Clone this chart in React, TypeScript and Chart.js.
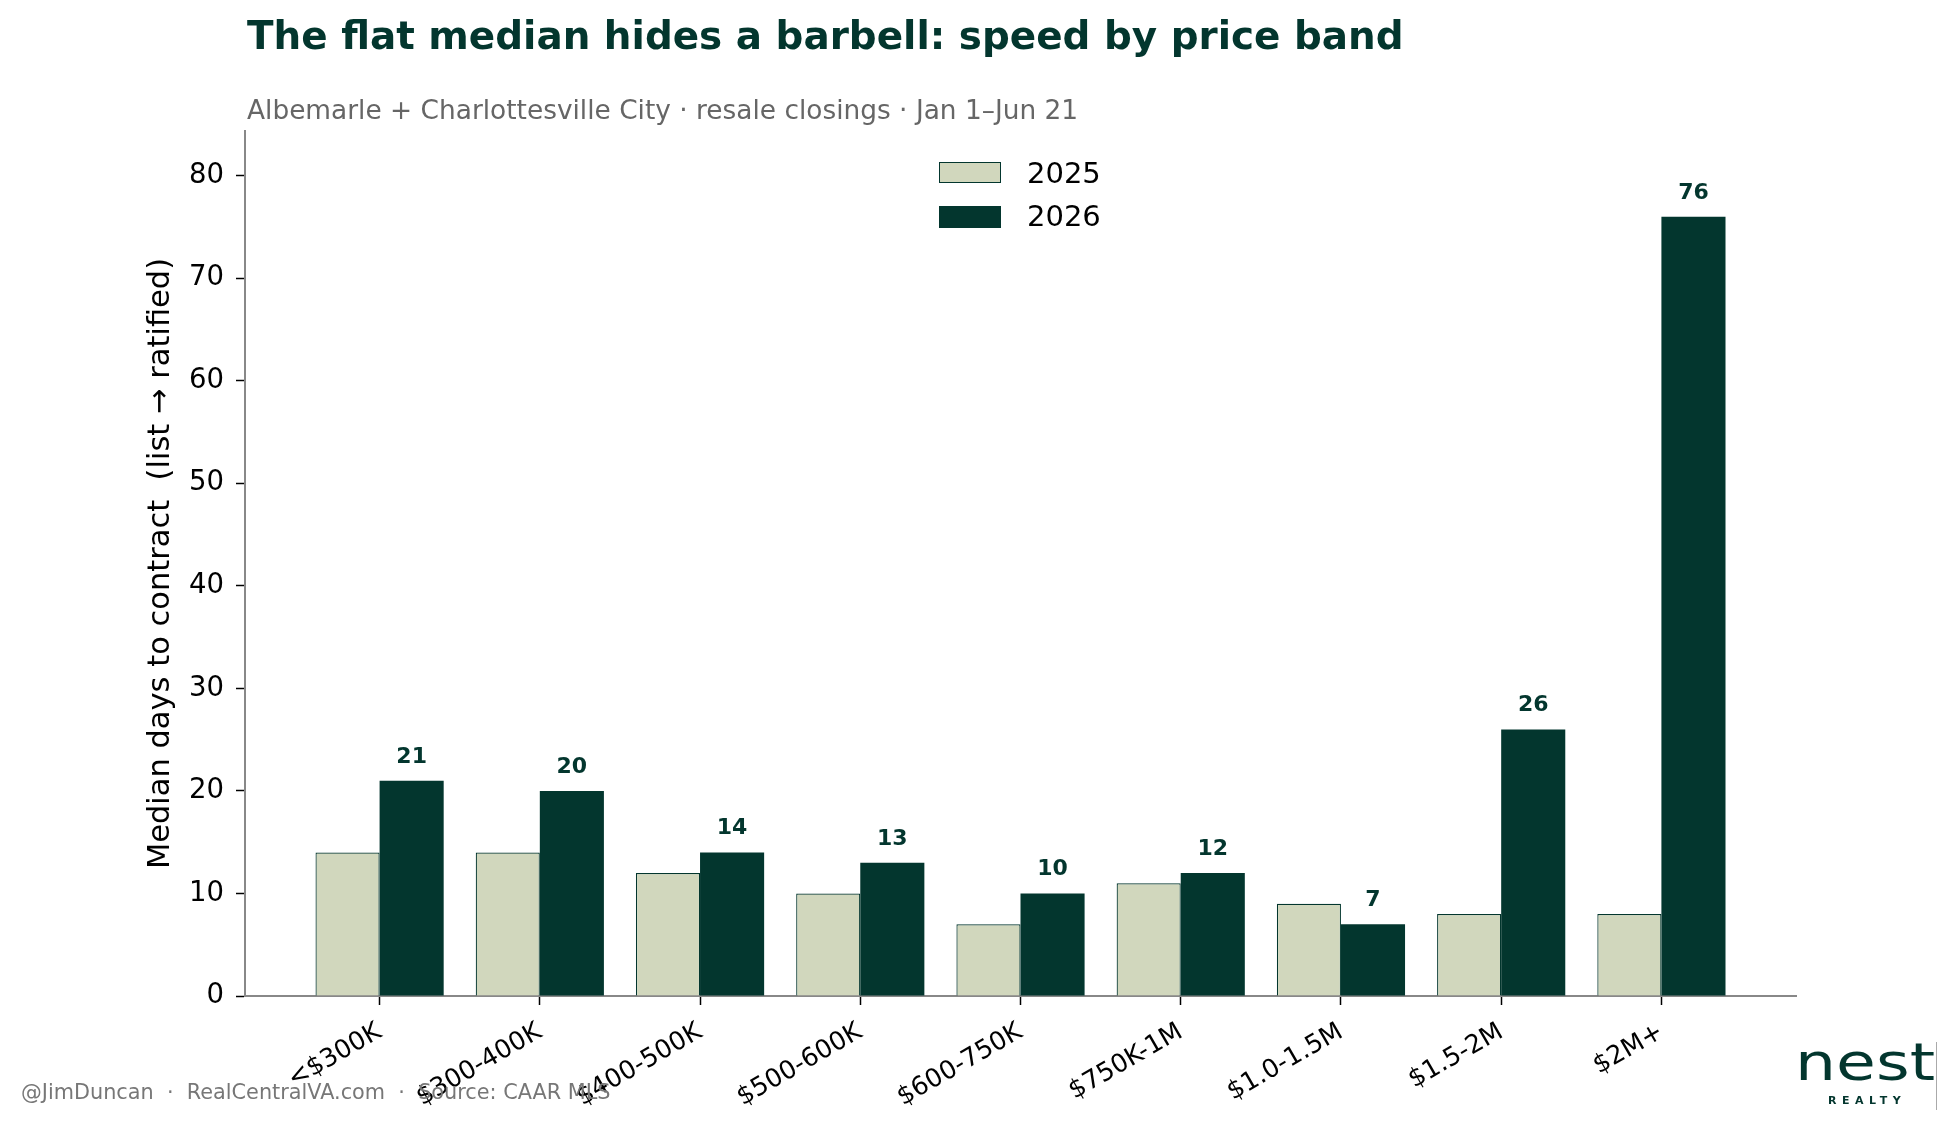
import { useEffect, useRef } from 'react';
import { Chart, registerables } from 'chart.js';
Chart.register(...registerables);

const BANDS = ['<$300K', '$300-400K', '$400-500K', '$500-600K', '$600-750K', '$750K-1M', '$1.0-1.5M', '$1.5-2M', '$2M+'];
const SERIES = ['2025', '2026'];
const DAYS_2025 = [14, 14, 12, 10, 7, 11, 9, 8, 8];
const DAYS_2026 = [21, 20, 14, 13, 10, 12, 7, 26, 76];
const Y_STEP = 10;

const DARK = '#03362e';
const LIGHT = '#d1d7bd';
const FONT = "'DejaVu Sans', sans-serif";

// numbers over the 2026 bars
const valueLabels = {
  id: 'valueLabels',
  afterDatasetsDraw(chart: any) {
    const { ctx } = chart;
    const meta = chart.getDatasetMeta(1);
    ctx.save();
    ctx.font = `bold 22px ${FONT}`;
    ctx.fillStyle = DARK;
    ctx.textAlign = 'center';
    ctx.textBaseline = 'alphabetic';
    meta.data.forEach((bar: any, i: number) => {
      ctx.fillText(String(DAYS_2026[i]), bar.x, bar.y - 18);
    });
    ctx.restore();
  }
};

function text(left: number, baseline: number, size: number, extra: React.CSSProperties = {}): React.CSSProperties {
  return {
    position: 'absolute',
    left,
    top: baseline - 0.846 * size,
    fontSize: size,
    lineHeight: `${size}px`,
    fontFamily: FONT,
    whiteSpace: 'pre',
    margin: 0,
    ...extra
  };
}

export default function App() {
  const canvasRef = useRef<HTMLCanvasElement>(null);
  const chartRef = useRef<Chart | null>(null);

  useEffect(() => {
    if (!canvasRef.current) return;
    if (chartRef.current) chartRef.current.destroy();

    const maxY = Math.max(...DAYS_2026, ...DAYS_2025) * 1.11;

    chartRef.current = new Chart(canvasRef.current, {
      type: 'bar',
      data: {
        datasets: [
          {
            label: SERIES[0],
            data: DAYS_2025.map((v, i) => ({ x: i, y: v })),
            backgroundColor: LIGHT,
            borderColor: DARK,
            borderWidth: 1.2,
            categoryPercentage: 0.8,
            barPercentage: 1.0
          },
          {
            label: SERIES[1],
            data: DAYS_2026.map((v, i) => ({ x: i, y: v })),
            backgroundColor: DARK,
            borderColor: DARK,
            borderWidth: 0,
            categoryPercentage: 0.8,
            barPercentage: 1.0
          }
        ]
      },
      options: {
        responsive: false,
        animation: false,
        events: [],
        layout: { padding: { left: 0, top: 131, right: 160, bottom: 0 } },
        plugins: {
          legend: { display: false },
          title: { display: false },
          tooltip: { enabled: false }
        },
        scales: {
          x: {
            type: 'linear',
            offset: false,
            min: -0.84,
            max: BANDS.length - 1 + 0.84,
            afterFit: (s: any) => { s.height = 129; },
            border: { display: true, color: '#888', width: 2 },
            grid: { display: true, offset: false, drawOnChartArea: false, drawTicks: true, tickLength: 9, tickColor: '#000', tickWidth: 1.5 },
            ticks: {
              stepSize: 1,
              includeBounds: false,
              autoSkip: false,
              minRotation: 30,
              maxRotation: 30,
              padding: 12,
              color: '#000',
              font: { family: FONT, size: 25.5 },
              callback: (v: any) => BANDS[v] ?? ''
            }
          },
          y: {
            type: 'linear',
            min: 0,
            max: maxY,
            afterFit: (s: any) => { s.width = 245; },
            border: { display: true, color: '#888', width: 2 },
            grid: { display: true, drawOnChartArea: false, drawTicks: true, tickLength: 9, tickColor: '#000', tickWidth: 1.5 },
            ticks: {
              stepSize: Y_STEP,
              includeBounds: false,
              padding: 12,
              color: '#000',
              font: { family: FONT, size: 27.5 }
            },
            title: {
              display: true,
              text: 'Median days to contract  (list \u2192 ratified)',
              color: '#000',
              font: { family: FONT, size: 30.5 },
              padding: { top: 143, bottom: 0 }
            }
          }
        }
      },
      plugins: [valueLabels]
    } as any);

    return () => {
      if (chartRef.current) {
        chartRef.current.destroy();
        chartRef.current = null;
      }
    };
  }, []);

  return (
    <div style={{ position: 'fixed', left: 0, top: 0, width: 1956, height: 1125, background: '#fff', overflow: 'hidden' }}>
      <canvas ref={canvasRef} width={1956} height={1125} style={{ position: 'absolute', left: 0, top: 0 }} />

      <div style={text(247, 50, 38.9, { fontWeight: 'bold', color: DARK })}>
        The flat median hides a barbell: speed by price band
      </div>
      <div style={text(247, 119, 26.4, { color: '#666' })}>
        Albemarle + Charlottesville City · resale closings · Jan 1–Jun 21
      </div>

      {/* legend */}
      <div style={{ position: 'absolute', left: 939, top: 162, width: 62, height: 21, boxSizing: 'border-box', background: LIGHT, border: `1.5px solid ${DARK}` }} />
      <div style={text(1027, 184, 29, { color: '#000' })}>{SERIES[0]}</div>
      <div style={{ position: 'absolute', left: 939, top: 206, width: 62, height: 22, background: DARK }} />
      <div style={text(1027, 227, 29, { color: '#000' })}>{SERIES[1]}</div>

      <div style={text(21, 1100, 20.8, { color: '#777' })}>
        {'@JimDuncan  ·  RealCentralVA.com  ·  Source: CAAR MLS'}
      </div>

      {/* logo */}
      <div style={text(1795, 1080, 51, { color: DARK, transform: 'scaleX(1.27)', transformOrigin: 'left top' })}>nest</div>
      <div style={text(1828, 1104, 11, { color: DARK, fontWeight: 'bold', letterSpacing: 5.5 })}>REALTY</div>
      <div style={{ position: 'absolute', left: 1936, top: 1042, width: 1, height: 68, background: '#aaa' }} />
    </div>
  );
}
